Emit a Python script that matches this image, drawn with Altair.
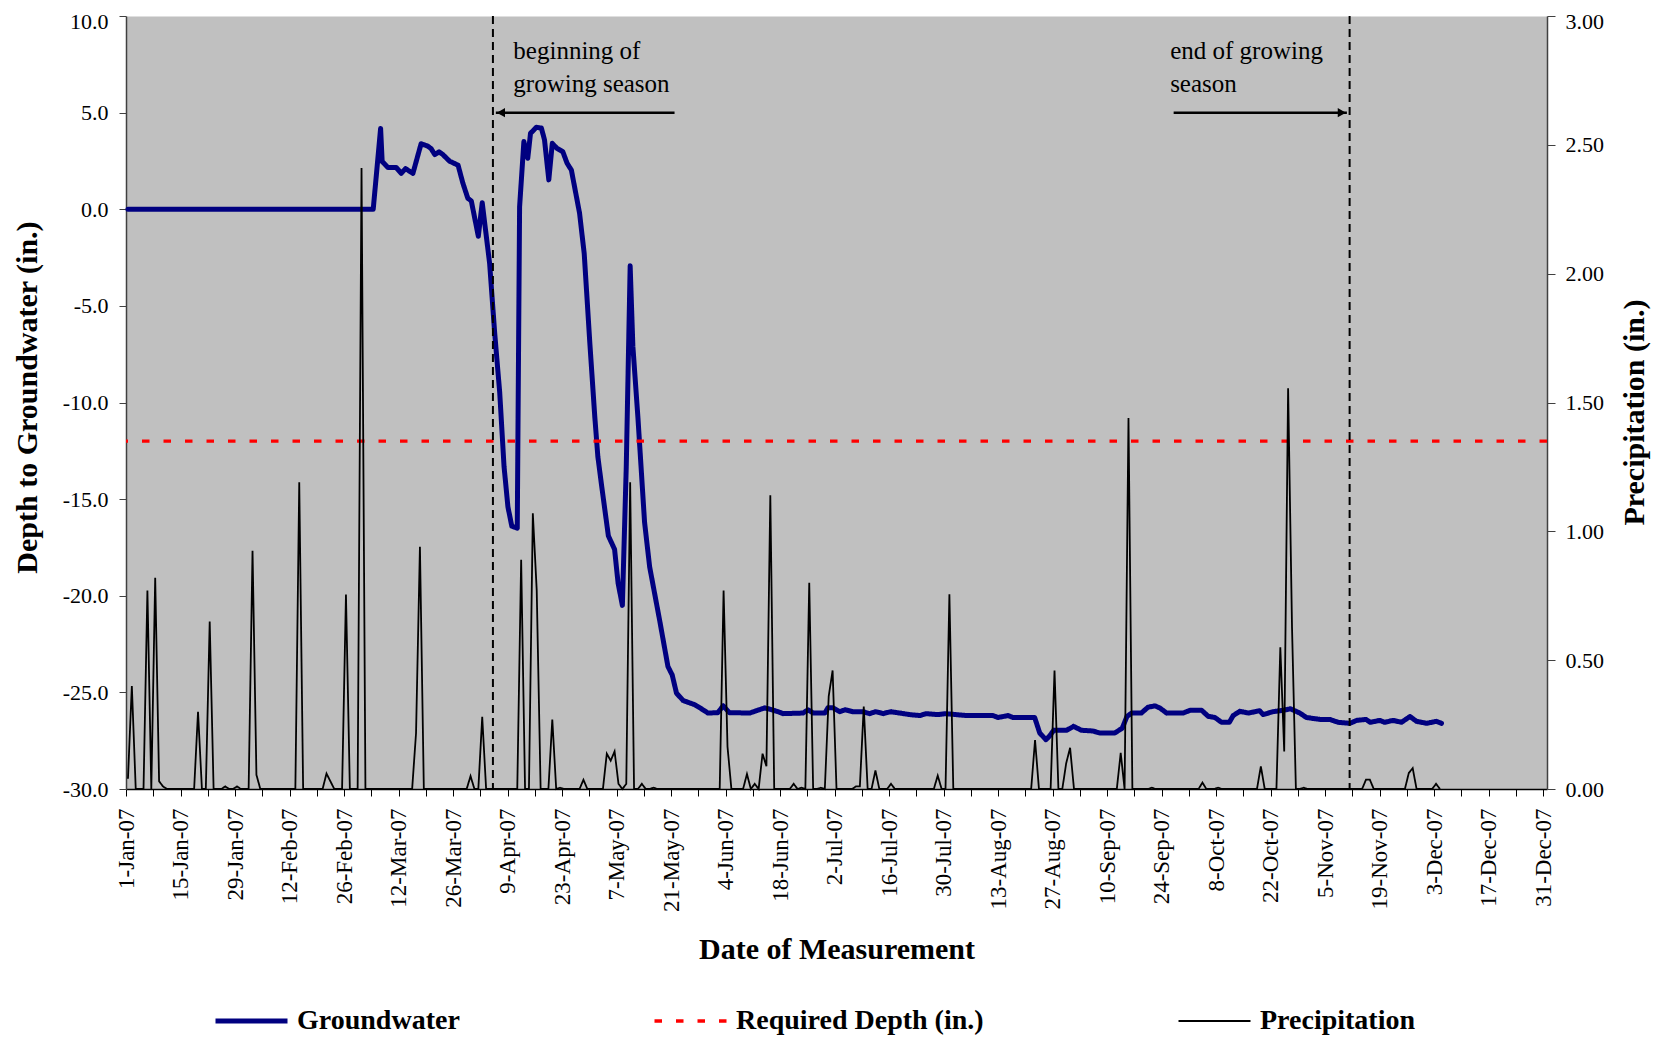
import altair as alt
import pandas as pd

FONT = "Liberation Serif"
YEAR_START = pd.Timestamp("2007-01-01 00:00:00")

series_names = ["Groundwater", "Required Depth (in.)", "Precipitation"]
series_colors = ["#000080", "#FF0000", "#000000"]
series_dashes = [[1, 0], [7.5, 14], [1, 0]]

# Groundwater depth: (days after 1-Jan-07, depth in inches)
gw_points = [
    (0.0, 0.0), (63.0, 0.0), (64.9, 4.18), (65.3, 2.47), (66.8, 2.16), (68.9, 2.16),
    (70.2, 1.86), (71.3, 2.10), (73.2, 1.86), (75.3, 3.39), (77.0, 3.27), (77.9, 3.13),
    (78.8, 2.83), (79.9, 2.97), (80.9, 2.83), (82.6, 2.49), (84.8, 2.28), (86.0, 1.37),
    (87.3, 0.57), (88.2, 0.43), (90.0, -1.40), (91.0, 0.34), (92.9, -2.80), (94.2, -6.40),
    (95.5, -9.50), (96.6, -13.30), (97.6, -15.40), (98.6, -16.40), (100.0, -16.50),
    (100.6, 0.13), (101.7, 3.50), (102.7, 2.64), (103.4, 3.93), (104.9, 4.24), (106.2, 4.20),
    (107.0, 3.59), (108.1, 1.52), (109.0, 3.41), (110.2, 3.15), (111.7, 2.98), (112.8, 2.38),
    (113.9, 2.03), (116.0, -0.20), (117.2, -2.30), (118.6, -6.80), (119.9, -10.70),
    (120.7, -12.80), (121.6, -14.20), (123.4, -16.90), (125.0, -17.60), (125.9, -19.35),
    (127.0, -20.50), (128.0, -13.30), (129.0, -2.93), (129.7, -7.10), (131.0, -10.80),
    (132.7, -16.20), (134.0, -18.50), (136.6, -21.30), (138.7, -23.66), (139.8, -24.10),
    (140.9, -25.04), (142.6, -25.42), (145.6, -25.64), (147.7, -25.90), (149.0, -26.07),
    (151.5, -26.05), (152.9, -25.70), (154.5, -26.05), (159.7, -26.07), (161.4, -25.95),
    (163.6, -25.80), (165.4, -25.90), (167.0, -26.00), (168.3, -26.10), (173.4, -26.07),
    (174.7, -25.90), (176.0, -26.07), (179.0, -26.07), (179.8, -25.80), (181.1, -25.80),
    (182.8, -26.00), (184.2, -25.90), (186.2, -26.00), (188.8, -26.00), (190.5, -26.10),
    (192.0, -26.00), (194.0, -26.10), (196.0, -26.00), (198.2, -26.07), (200.8, -26.15),
    (203.4, -26.20), (205.0, -26.10), (208.0, -26.15), (210.0, -26.10), (215.4, -26.20),
    (222.2, -26.20), (223.5, -26.30), (226.1, -26.20), (227.3, -26.30), (232.9, -26.30),
    (234.2, -27.10), (235.8, -27.45), (236.8, -27.24), (237.8, -26.96), (241.1, -26.96),
    (242.9, -26.76), (244.9, -26.96), (247.9, -27.00), (249.6, -27.10), (253.5, -27.10),
    (255.4, -26.85), (256.6, -26.25), (257.8, -26.07), (260.3, -26.07), (262.0, -25.77),
    (263.8, -25.70), (265.0, -25.80), (266.8, -26.07), (271.0, -26.07), (272.8, -25.93),
    (275.8, -25.93), (277.5, -26.24), (279.2, -26.30), (280.9, -26.55), (282.9, -26.55),
    (283.9, -26.20), (285.6, -25.98), (287.8, -26.07), (290.7, -25.95), (291.6, -26.15),
    (294.1, -26.00), (296.7, -25.93), (298.6, -25.85), (299.7, -25.95), (301.0, -26.07),
    (302.7, -26.30), (306.2, -26.40), (308.7, -26.40), (310.9, -26.55), (313.9, -26.60),
    (315.6, -26.45), (318.0, -26.40), (319.1, -26.55), (321.6, -26.45), (322.8, -26.55),
    (325.0, -26.45), (327.1, -26.55), (329.3, -26.25), (331.0, -26.50), (333.6, -26.60),
    (336.1, -26.50), (337.4, -26.60),
]

# Daily precipitation (in.), one value per day starting 1-Jan-07
precip_jan = [0.04, 0.40, 0, 0, 0, 0.77, 0, 0.82, 0.03, 0.01,
              0, 0, 0, 0, 0, 0, 0, 0, 0.30, 0,
              0, 0.65, 0, 0, 0, 0.01, 0, 0, 0.01, 0,
              0]
precip_feb = [0, 0.925, 0.055, 0, 0, 0, 0, 0, 0, 0,
              0, 0, 0, 1.19, 0, 0, 0, 0, 0, 0,
              0.06, 0.03, 0, 0, 0, 0.755, 0, 0]
precip_mar = [0, 2.41, 0, 0, 0, 0, 0, 0, 0, 0,
              0, 0, 0, 0, 0, 0.217, 0.94, 0, 0, 0,
              0, 0, 0, 0, 0, 0, 0, 0, 0, 0.05,
              0]
precip_apr = [0, 0.28, 0, 0, 0, 0, 0, 0, 0, 0,
              0, 0.89, 0, 0, 1.07, 0.77, 0, 0, 0, 0.27,
              0, 0.005, 0, 0, 0, 0, 0, 0.036, 0, 0]
precip_may = [0, 0, 0, 0.137, 0.11, 0.146, 0.02, 0, 0.02, 1.19,
              0, 0, 0.02, 0, 0, 0.005, 0, 0, 0, 0,
              0, 0, 0, 0, 0, 0, 0, 0, 0, 0,
              0]
precip_jun = [0, 0, 0.77, 0.165, 0, 0, 0, 0, 0.058, 0,
              0.02, 0, 0.137, 0.088, 1.14, 0, 0, 0, 0, 0,
              0.02, 0, 0.005, 0, 0.80, 0, 0, 0.005, 0, 0.36]
precip_jul = [0.46, 0, 0, 0, 0, 0, 0.01, 0.01, 0.32, 0,
              0, 0.072, 0, 0, 0, 0.02, 0, 0, 0, 0,
              0, 0, 0, 0, 0, 0, 0, 0.052, 0, 0,
              0.756]
precip_aug = [0, 0, 0, 0, 0, 0, 0, 0, 0, 0,
              0, 0, 0, 0, 0, 0, 0, 0, 0, 0,
              0, 0.19, 0, 0, 0, 0, 0.46, 0, 0, 0.10,
              0.16]
precip_sep = [0, 0, 0, 0, 0, 0, 0, 0, 0, 0,
              0, 0, 0.14, 0, 1.44, 0, 0, 0, 0, 0,
              0.005, 0, 0, 0, 0, 0, 0, 0, 0, 0]
precip_oct = [0, 0, 0, 0.025, 0, 0, 0, 0.005, 0, 0,
              0, 0, 0, 0, 0, 0, 0, 0, 0.088, 0,
              0, 0, 0, 0.55, 0.146, 1.555, 0.63, 0, 0, 0.005,
              0]
precip_nov = [0, 0, 0, 0, 0, 0, 0, 0, 0, 0,
              0, 0, 0, 0, 0.036, 0.036, 0, 0, 0, 0,
              0, 0, 0, 0, 0, 0.062, 0.081, 0, 0, 0]
precip_dec = [0, 0, 0.02, 0]

required_depth = -12.0
season_lines = [94.25, 314.3]          # days after 1-Jan-07
arrow_tails = [140.9, 269.1]
arrow_tips = [95.0, 313.6]
arrow_level = 5.0
note_text = ["beginning of", "growing season", "end of growing", "season"]
note_day = [99.5, 99.5, 268.2, 268.2]
note_level = [7.76, 6.08, 7.76, 6.08]


def at(days):
    return YEAR_START + pd.to_timedelta(days, unit="D")


gw_df = pd.DataFrame({
    "date": [at(d + 0.5) for d, _ in gw_points],
    "value": [v for _, v in gw_points],
    "series": "Groundwater",
})
precip_values = (precip_jan + precip_feb + precip_mar + precip_apr + precip_may + precip_jun
                 + precip_jul + precip_aug + precip_sep + precip_oct + precip_nov + precip_dec)
precip_df = pd.DataFrame({
    "date": [at(i + 0.5) for i in range(len(precip_values))],
    "value": precip_values,
    "series": "Precipitation",
})
req_df = pd.DataFrame({"value": [required_depth], "series": ["Required Depth (in.)"]})
vline_df = pd.DataFrame({"date": [at(d) for d in season_lines]})
arrow_df = pd.DataFrame({
    "date": [at(d) for d in arrow_tails],
    "end": [at(d) for d in arrow_tips],
    "value": [arrow_level] * len(arrow_tails),
})
head_df = pd.DataFrame({
    "date": [at(arrow_tips[0] + 1.3), at(arrow_tips[1] - 1.3)],
    "value": [arrow_level, arrow_level],
    "shape": ["triangle-left", "triangle-right"],
})
note_df = pd.DataFrame({
    "label": note_text,
    "date": [at(d) for d in note_day],
    "value": note_level,
})

# ---------- scales & axes ----------
x_scale = alt.Scale(
    domain=[alt.DateTime(year=2007, month=1, date=1), alt.DateTime(year=2008, month=1, date=1)],
    nice=False,
)
tick_values = [alt.DateTime(year=t.year, month=t.month, date=t.day)
               for t in pd.date_range("2007-01-01", periods=53, freq="7D")]
x_axis = alt.Axis(
    values=tick_values,
    labelExpr="(round((datum.value - datetime(2007, 0, 1)) / 86400000) % 14 === 0) ? timeFormat(datum.value, '%-d-%b-%y') : ''",
    labelAngle=270, labelFontSize=23, labelPadding=12, tickSize=7,
    labelFlush=False, labelOverlap=False, grid=False,
    domainColor="#000000", tickColor="#000000", domainWidth=1.5,
    title="Date of Measurement", titleFontSize=30, titleFontWeight="bold",
    titleY=169, titleBaseline="alphabetic",
)
left_scale = alt.Scale(domain=[-30, 10], nice=False, zero=False)
left_axis = alt.Axis(
    values=list(range(-30, 11, 5)),
    labelExpr="replace(format(datum.value, '.1f'), '\u2212', '-')",
    labelFontSize=22, labelPadding=11, tickSize=7, grid=False,
    labelOffset={"condition": {"test": "datum.value === 10", "value": 5}, "value": 0},
    title="Depth to Groundwater (in.)", titleFontSize=30, titleFontWeight="bold",
    titleAngle=270, titleX=-90, titleY=381, titleAlign="center", titleBaseline="alphabetic",
)
right_scale = alt.Scale(domain=[0, 3], nice=False, zero=False)
right_axis = alt.Axis(
    orient="right", values=[0, 0.5, 1.0, 1.5, 2.0, 2.5, 3.0], format=".2f",
    labelFontSize=22, labelPadding=10, tickSize=8, grid=False,
    labelOffset={"condition": {"test": "datum.value === 3", "value": 5}, "value": 0},
    title="Precipitation (in.)", titleFontSize=30, titleFontWeight="bold",
    titleAngle=270, titleX=96, titleY=396, titleAlign="center", titleBaseline="alphabetic",
)

legend = alt.Legend(
    orient="none", legendX=87, legendY=990, direction="horizontal", columns=3,
    title=None, symbolType="stroke", symbolSize=5184, clipHeight=30,
    labelFont=FONT, labelFontSize=28, labelFontWeight="bold", labelColor="black",
    labelOffset=7, labelLimit=600, columnPadding=192, padding=0,
)
color_enc = alt.Color("series:N", scale=alt.Scale(domain=series_names, range=series_colors), legend=legend)
dash_enc = alt.StrokeDash("series:N", scale=alt.Scale(domain=series_names, range=series_dashes), legend=legend)
width_enc = alt.StrokeWidth("series:N", scale=alt.Scale(type="point", domain=series_names, range=[5, 1.8]),
                            legend=legend)

x_enc = alt.X("date:T", scale=x_scale, axis=x_axis)
y_left = alt.Y("value:Q", scale=left_scale, axis=left_axis)

gw_line = alt.Chart(gw_df).mark_line(strokeJoin="round", strokeCap="round").encode(
    x=x_enc, y=y_left, color=color_enc, strokeDash=dash_enc, strokeWidth=width_enc,
)
req_rule = alt.Chart(req_df).mark_rule().encode(
    y=y_left, color=color_enc, strokeDash=dash_enc, strokeWidth=width_enc,
)
vlines = alt.Chart(vline_df).mark_rule(color="black", strokeWidth=2, strokeDash=[8, 5]).encode(x=x_enc)
arrows = alt.Chart(arrow_df).mark_rule(color="black", strokeWidth=2.5).encode(
    x=x_enc, x2="end:T", y=y_left,
)
heads = alt.Chart(head_df).mark_point(filled=True, color="black", size=90, opacity=1).encode(
    x=x_enc, y=y_left, shape=alt.Shape("shape:N", scale=None),
)
notes = alt.Chart(note_df).mark_text(
    align="left", baseline="alphabetic", font=FONT, fontSize=25, color="black",
).encode(x=x_enc, y=y_left, text="label:N")

left_layer = alt.layer(gw_line, req_rule, vlines, arrows, heads, notes)

precip_line = alt.Chart(precip_df).mark_line(strokeJoin="miter").encode(
    x=x_enc,
    y=alt.Y("value:Q", scale=right_scale, axis=right_axis),
    color=color_enc, strokeDash=dash_enc, strokeWidth=width_enc,
)

chart = alt.layer(left_layer, precip_line).resolve_scale(y="independent").properties(
    width=1421, height=773,
    autosize=alt.AutoSizeParams(type="none"),
    padding={"left": 118, "top": 8, "right": 106, "bottom": 247},
    background="white",
).configure_view(
    fill="#C0C0C0", stroke="transparent",
).configure_axis(
    labelFont=FONT, titleFont=FONT, labelColor="black", titleColor="black",
    domainColor="#404040", tickColor="#404040", domainWidth=1.5,
)

chart.save("out.html", embed_options={"renderer": "svg", "actions": False})
